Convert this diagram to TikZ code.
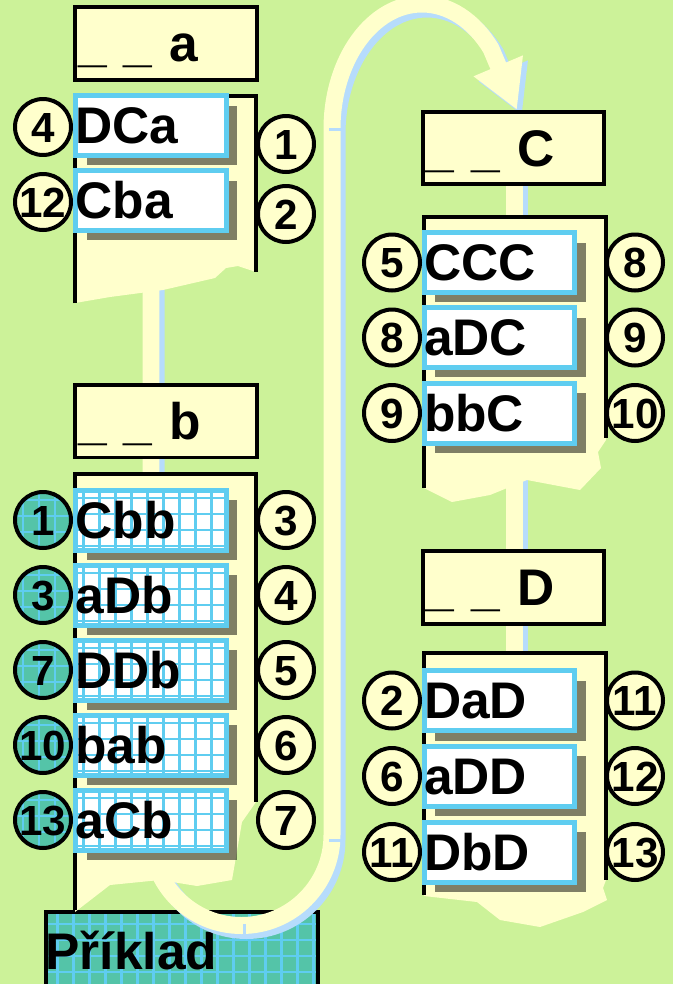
\documentclass[tikz,border=0pt]{standalone}
\usepackage{fontspec}
\setmainfont{Liberation Sans}
\usetikzlibrary{arrows.meta,shadows}

\definecolor{leaf}{RGB}{204,242,153}
\definecolor{paper}{RGB}{255,255,204}
\definecolor{tapeblue}{RGB}{182,220,252}
\definecolor{slotblue}{RGB}{95,205,240}
\definecolor{sea}{RGB}{84,196,168}

\newcommand*{\wmax}{673}
\newcommand*{\hmax}{984}
\newcommand*{\bigfont}{\fontsize{29.3pt}{32pt}\selectfont\bfseries}
\newcommand*{\numfont}{\fontsize{24pt}{26pt}\selectfont\bfseries}

\begin{document}
\begin{tikzpicture}
[
	x=0.02cm, y=-0.02cm,
	frame/.style={line width=0.08cm},
	tape/.style={line width=0.34cm},
	gridline/.style={draw=slotblue,line width=0.05cm},
	gridded/.style={path picture={
		\foreach \k in {1,...,18} {
			\draw[gridline] ([xshift=\k*0.32cm-#1]path picture bounding box.north west) -- ([xshift=\k*0.32cm-#1]path picture bounding box.south west);
			\draw[gridline] ([yshift=-\k*0.32cm+#1]path picture bounding box.north west) -- ([yshift=-\k*0.32cm+#1]path picture bounding box.north east);
		}
	}},
	gridded/.default=0.16cm,
	header/.style={draw,line width=0.08cm,fill=paper,minimum height=1.46cm,text width=3.52cm,inner xsep=0.06cm,inner ysep=0pt,align=left,font=\bigfont,text height=21pt,text depth=0pt},
	entry/.style={draw=slotblue,line width=0.1cm,fill=white,minimum height=1.2cm,text width=3.02cm,inner sep=0pt,align=left,font=\bigfont,text height=21pt,text depth=0pt,drop shadow={shadow xshift=0.22cm,shadow yshift=-0.2cm,fill=black,opacity=0.5}},
	numcirc/.style={circle,draw,line width=0.08cm,fill=paper,minimum size=1.12cm,inner sep=0pt,font=\numfont,text height=17.2pt,text depth=0pt},
	prkbox/.style={draw,line width=0.08cm,fill=sea,gridded=0.08cm,minimum height=1.58cm,text width=5.45cm,inner sep=0pt,align=left,font=\bigfont,text height=21pt,text depth=0pt}
]

	% background
	\clip (0,0) rectangle (\wmax,\hmax);
	\fill[leaf] (0,0) rectangle (\wmax,\hmax);

	% example box
	\node[prkbox] (prk) at (181.75,951.5) {Příklad};

	% tape
	\foreach \col/\sh in {tapeblue/5,paper/0} {
		\draw[tape,draw=\col,shift={(\sh,\sh)},-{Triangle[length=0.96cm,width=1cm]}] (151,150) -- (151,835) arc[start angle=180,end angle=0,radius=90.5] -- (332,129) arc[start angle=180,end angle=320,x radius=90,y radius=125] -- (517,110);
		\draw[tape,draw=\col,shift={(\sh,\sh)}] (514,140) -- (514,800);
	}
	\draw[tapeblue,line width=0.06cm] (329,129) -- (342,129);
	\draw[tapeblue,line width=0.06cm] (329,840) -- (344,840);
	\draw[tapeblue,line width=0.06cm] (244.5,924) -- (244.5,936);

	% pages
	\fill[paper] (75,96) -- (256,96) -- (256,272) -- (238,266) -- (226,268) -- (215,278) -- (163,290) -- (110,297) -- (75,303) -- cycle;
	\draw[frame] (75,303) -- (75,96) -- (256,96) -- (256,272);
	\fill[paper] (75,474) -- (256,474) -- (256,802) -- (242,822) -- (232,880) -- (197,886) -- (160,880) -- (110,885) -- (75,912) -- cycle;
	\draw[frame] (75,910) -- (75,474) -- (256,474) -- (256,802);
	\fill[paper] (424,217) -- (606,217) -- (606,440) -- (598,452) -- (601,468) -- (580,490) -- (527,480) -- (490,495) -- (452,502) -- (424,488) -- cycle;
	\draw[frame] (424,488) -- (424,217) -- (606,217) -- (606,438);
	\fill[paper] (424,653) -- (606,653) -- (606,880) -- (603,888) -- (607,900) -- (583,912) -- (540,927) -- (500,920) -- (477,902) -- (424,896) -- cycle;
	\draw[frame] (424,895) -- (424,653) -- (606,653) -- (606,880);

	% headers
	\node[header] (hda) at (166,43.5) {\_ \_ a};
	\node[header] (hdb) at (166,421) {\_ \_ b};
	\node[header] (hdC) at (513.5,148) {\_ \_ C};
	\node[header] (hdD) at (513.5,587.5) {\_ \_ D};

	% column a
	\node[entry] (ea1) at (151,125.5) {DCa};
	\node[entry] (ea2) at (151,200.5) {Cba};
	\node[numcirc] (la1) at (43,127) {4};
	\node[numcirc] (la2) at (43,202) {12};
	\node[numcirc] (ra1) at (286,144) {1};
	\node[numcirc] (ra2) at (286,214) {2};

	% column b
	\foreach \txt/\lnum/\rnum [count=\i] in {Cbb/1/3,aDb/3/4,DDb/7/5,bab/10/6,aCb/13/7} {
		\pgfmathsetmacro{\yy}{445+75*\i}
		\node[entry,gridded] (eb\i) at (151,\yy) {\txt};
		\node[numcirc,fill=sea,gridded] (lb\i) at (43,\yy) {\lnum};
		\node[numcirc] (rb\i) at (286,\yy) {\rnum};
	}

	% column C
	\foreach \txt/\lnum/\rnum/\yy [count=\i] in {CCC/5/8/262.5,aDC/8/9/337.5,bbC/9/10/413} {
		\node[entry] (eC\i) at (499.5,\yy) {\txt};
		\node[numcirc] (lC\i) at (392,\yy) {\lnum};
		\node[numcirc] (rC\i) at (635,\yy) {\rnum};
	}

	% column D
	\foreach \txt/\lnum/\rnum/\yy [count=\i] in {DaD/2/11/700.5,aDD/6/12/776,DbD/11/13/852} {
		\node[entry] (eD\i) at (499.5,\yy) {\txt};
		\node[numcirc] (lD\i) at (392,\yy) {\lnum};
		\node[numcirc] (rD\i) at (635,\yy) {\rnum};
	}

\end{tikzpicture}
\end{document}
